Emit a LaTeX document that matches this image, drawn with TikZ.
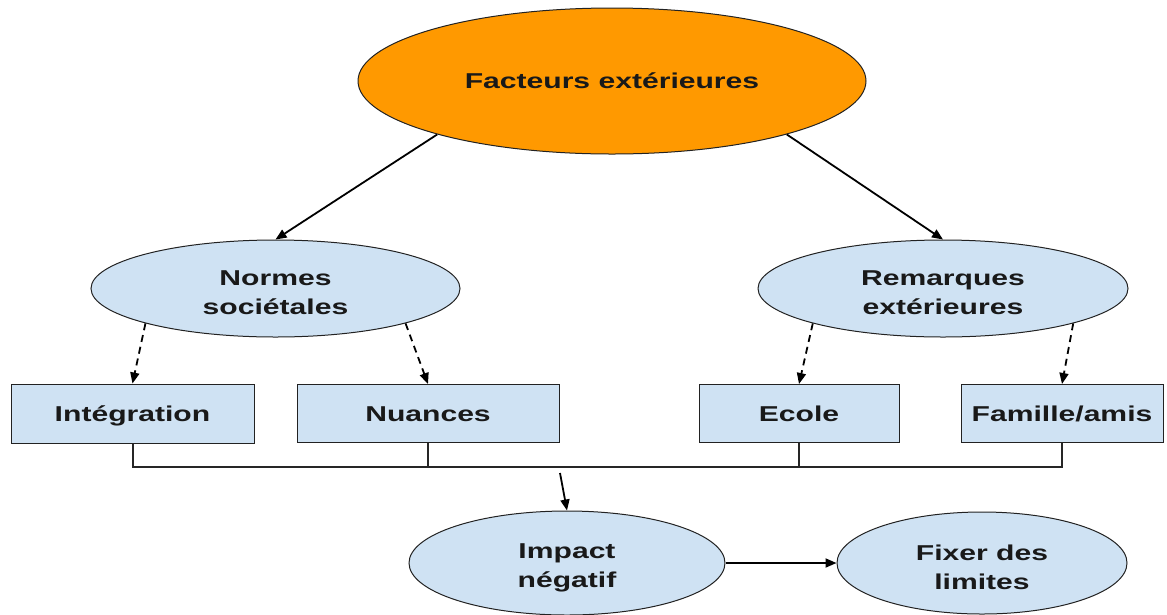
\documentclass[tikz,border=0pt]{standalone}
\usepackage{fontspec}
\newfontfamily\lab[FakeStretch=1.4]{Liberation Sans Bold}
\usetikzlibrary{shapes.geometric,arrows.meta}
\definecolor{lblue}{HTML}{CFE2F3}
\definecolor{orng}{HTML}{FF9900}
\definecolor{edge}{HTML}{222222}
\newcommand\topstrut{\rule{0pt}{24pt}}
\tikzset{
  base/.style={draw=edge, line width=1pt, inner sep=0pt, align=center,
    font=\lab\fontsize{21.5}{29}\selectfont, text=black!90},
  oval/.style={base, ellipse, fill=lblue},
  rbox/.style={base, rectangle, fill=lblue, text height=15pt, text depth=0pt},
  arr/.style={line width=1.8pt, draw=black, -{Triangle[length=11pt,width=9pt]}},
  darr/.style={arr, dash pattern=on 7pt off 5pt},
  bus/.style={line width=2pt, draw=black!85}
}
\begin{document}
\begin{tikzpicture}[x=1pt,y=-1pt]
\useasboundingbox (0,0) rectangle (1167,614);
\node[oval, fill=orng, minimum width=508pt, minimum height=146pt] (top) at (612,81) {Facteurs extérieures};
\node[oval, minimum width=369pt, minimum height=97pt] (normes) at (275.5,288.5) {\topstrut Normes\\sociétales};
\node[oval, minimum width=370pt, minimum height=97pt] (rem) at (943,288.5) {\topstrut Remarques\\extérieures};
\node[rbox, minimum width=243pt, minimum height=59pt] (integ) at (132.5,413.5) {Intégration};
\node[rbox, minimum width=262pt, minimum height=58pt] (nuan) at (428,413.5) {Nuances};
\node[rbox, minimum width=200pt, minimum height=58pt] (ecole) at (799,413.5) {Ecole};
\node[rbox, minimum width=202pt, minimum height=58pt] (fam) at (1062,413.5) {Famille/amis};
\node[oval, minimum width=316pt, minimum height=104pt] (impact) at (567,563) {\topstrut Impact\\négatif};
\node[oval, minimum width=290pt, minimum height=102pt] (fixer) at (982,563) {\topstrut Fixer des\\limites};

\draw[arr] (top.197) -- (normes.north);
\draw[arr] (top.-17) -- (rem.north);
\draw[darr] (normes.195) -- (integ.north);
\draw[darr] (normes.-15) -- (nuan.north);
\draw[darr] (rem.195) -- (ecole.north);
\draw[darr] (rem.-15) -- (fam.north);

\coordinate (busy) at (0,467);
\draw[bus] (integ.south) -- (integ.south |- busy) -- (fam.south |- busy) -- (fam.south);
\draw[bus] (nuan.south) -- (nuan.south |- busy);
\draw[bus] (ecole.south) -- (ecole.south |- busy);

\coordinate (busout) at (560,473);
\draw[arr] (busout) -- (impact.north);
\draw[arr] (impact.east) -- (fixer.west);
\end{tikzpicture}
\end{document}
